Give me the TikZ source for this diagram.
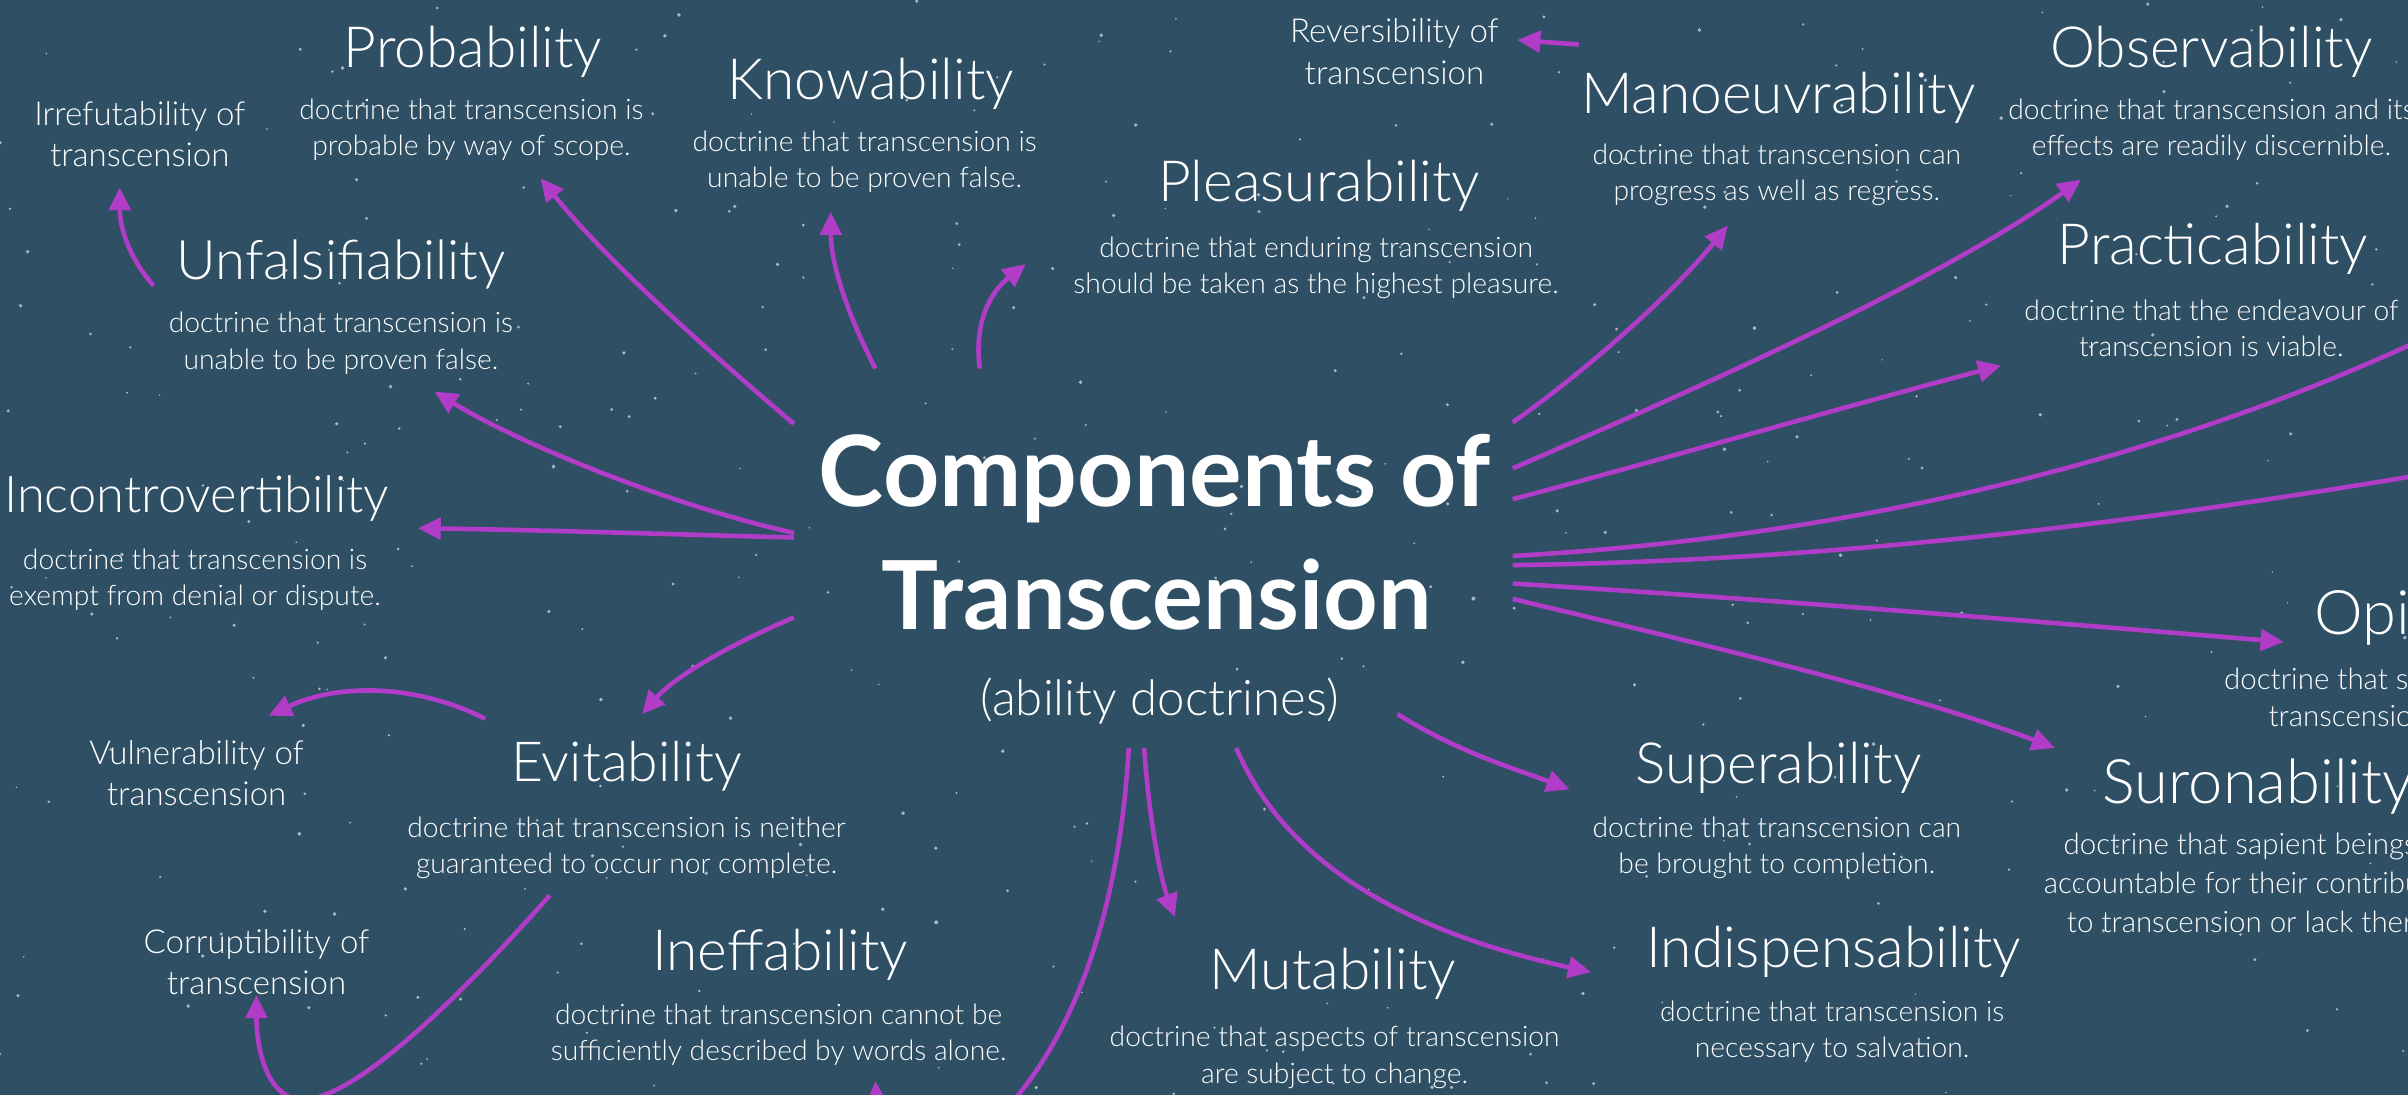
\documentclass[tikz,border=0pt]{standalone}
\usepackage{fontspec}
\setmainfont{Lato Light}
\newfontfamily\boldf{Lato Bold}
\usetikzlibrary{arrows.meta}
\definecolor{bg}{RGB}{46,79,100}
\definecolor{arr}{RGB}{176,60,200}
\begin{document}
\begin{tikzpicture}[x=1pt,y=-1pt,
  ttl/.style={text=white,font=\fontsize{37}{42}\selectfont,anchor=base,inner sep=0pt},
  desc/.style={text=white,font=\fontsize{18.4}{23.5}\selectfont,align=center,inner sep=0pt},
  smalltxt/.style={text=white,font=\fontsize{21.5}{27}\selectfont,align=center,inner sep=0pt},
  con/.style={draw=arr,line width=3pt,-{Triangle[length=15pt,width=14pt]}},
]
\useasboundingbox (0,0) rectangle (1568,713);
\fill[bg] (0,0) rectangle (1568,713);
% stars
\pgfmathsetseed{7}
\foreach \i in {1,...,360}{
  \pgfmathsetmacro\sx{rnd*1568}
  \pgfmathsetmacro\sy{rnd*713}
  \pgfmathsetmacro\sr{0.5+rnd*0.8}
  \fill[white,opacity=0.6] (\sx,\sy) circle (\sr);
}
% central title
\node[text=white,font=\boldf\fontsize{64}{70}\selectfont,anchor=base,inner sep=0pt] (title1) at (752,330) {Components of};
\node[text=white,font=\boldf\fontsize{62}{70}\selectfont,anchor=base,inner sep=0pt] (title2) at (753,410) {Transcension};
\node[text=white,font=\fontsize{32}{38}\selectfont,anchor=base,inner sep=0pt] (subt) at (755,466) {(ability doctrines)};

% doctrine titles
\node[ttl] (probT) at (308,44) {Probability};
\node[ttl] (knowT) at (567,65) {Knowability};
\node[ttl] (pleaT) at (859,131) {Pleasurability};
\node[ttl] (manoT) at (1158,74) {Manoeuvrability};
\node[ttl] (obsT) at (1440,44) {Observability};
\node[ttl] (pracT) at (1441,172) {Practicability};
\node[ttl,font=\fontsize{35.5}{42}\selectfont] (unfT) at (222,182) {Unfalsifiability};
\node[ttl,font=\fontsize{33}{42}\selectfont] (incT) at (128,334) {Incontrovertibility};
\node[ttl,font=\fontsize{36}{42}\selectfont] (eviT) at (408,509) {Evitability};
\node[ttl] (ineT) at (508,632) {Ineffability};
\node[ttl] (mutT) at (868,644) {Mutability};
\node[ttl] (supT) at (1158,510) {Superability};
\node[ttl] (indT) at (1194,630) {Indispensability};
\node[ttl,font=\fontsize{40}{46}\selectfont,anchor=base west] (opiT) at (1507,413) {Opi};
\node[ttl,font=\fontsize{40}{46}\selectfont,anchor=base west] (surT) at (1369,523) {Suronability};

% descriptions
\node[desc] (probD) at (307,84.5) {doctrine that transcension is\\probable by way of scope.};
\node[desc] (knowD) at (563,105) {doctrine that transcension is\\unable to be proven false.};
\node[desc] (pleaD) at (857,174.5) {doctrine that enduring transcension\\should be taken as the highest pleasure.};
\node[desc] (manoD) at (1157,114) {doctrine that transcension can\\progress as well as regress.};
\node[desc] (obsD) at (1440,84.5) {doctrine that transcension and its\\effects are readily discernible.};
\node[desc] (pracD) at (1440,214) {doctrine that the endeavour of\\transcension is viable.};
\node[desc] (unfD) at (222,223.5) {doctrine that transcension is\\unable to be proven false.};
\node[desc] (incD) at (127,377.5) {doctrine that transcension is\\exempt from denial or dispute.};
\node[desc] (eviD) at (408,552) {doctrine that transcension is neither\\guaranteed to occur nor complete.};
\node[desc] (ineD) at (507,674) {doctrine that transcension cannot be\\sufficiently described by words alone.};
\node[desc] (mutD) at (869,688.5) {doctrine that aspects of transcension\\are subject to change.};
\node[desc] (supD) at (1157,552) {doctrine that transcension can\\be brought to completion.};
\node[desc] (indD) at (1193,672) {doctrine that transcension is\\necessary to salvation.};
\node[desc,font=\fontsize{19.2}{25.5}\selectfont] (surD) at (1474,575) {doctrine that sapient beings are\\accountable for their contributions\\to transcension or lack thereof.};
\node[desc,font=\fontsize{19.2}{25.5}\selectfont,anchor=base west] (opiD1) at (1448,449) {doctrine that so};
\node[desc,font=\fontsize{19.2}{25.5}\selectfont,anchor=base west] (opiD2) at (1477,473) {transcensio};

% secondary labels
\node[smalltxt] (irr) at (91,87.5) {Irrefutability of\\transcension};
\node[smalltxt] (rev) at (908,33.5) {Reversibility of\\transcension};
\node[smalltxt] (vul) at (128,503.5) {Vulnerability of\\transcension};
\node[smalltxt] (cor) at (167,626.5) {Corruptibility of\\transcension};

% connector end points
\coordinate (s1) at (100,186);  \coordinate (e1) at (78,122);
\coordinate (s2) at (517,276);  \coordinate (e2) at (352,116);
\coordinate (s3) at (570,240);  \coordinate (e3) at (541,138);
\coordinate (s4) at (638,240);  \coordinate (e4) at (668,172);
\coordinate (s5) at (1028,29);  \coordinate (e5) at (988,26);
\coordinate (s6) at (985,275);  \coordinate (e6) at (1125,147);
\coordinate (s7) at (985,305);  \coordinate (e7) at (1355,117);
\coordinate (s8) at (985,325);  \coordinate (e8) at (1303,238);
\coordinate (s9) at (985,362);  \coordinate (e9) at (1620,200);
\coordinate (s10) at (985,368); \coordinate (e10) at (1630,300);
\coordinate (s11) at (985,380); \coordinate (e11) at (1487,418);
\coordinate (s12) at (985,390); \coordinate (e12) at (1338,487);
\coordinate (s13) at (910,465); \coordinate (e13) at (1022,514);
\coordinate (s14) at (805,487); \coordinate (e14) at (1036,633);
\coordinate (s15) at (745,487); \coordinate (e15) at (765,597);
\coordinate (s16) at (735,487); \coordinate (e16) at (570,704);
\coordinate (s17) at (517,402); \coordinate (e17) at (418,465);
\coordinate (s18) at (517,350); \coordinate (e18) at (272,344);
\coordinate (s19) at (517,347); \coordinate (e19) at (283,255);
\coordinate (s20) at (316,468); \coordinate (e20) at (175,466);
\coordinate (s21) at (358,583); \coordinate (e21) at (167,648);

% connectors
\draw[con] (s1) .. controls (84,168) and (78,148) .. (e1);
\draw[con] (s2) .. controls (465,232) and (395,170) .. (e2);
\draw[con] (s3) .. controls (552,205) and (541,172) .. (e3);
\draw[con] (s4) .. controls (634,210) and (645,190) .. (e4);
\draw[con] (s5) -- (e5);
\draw[con] (s6) .. controls (1035,240) and (1090,190) .. (e6);
\draw[con] (s7) .. controls (1100,255) and (1260,185) .. (e7);
\draw[con] (s8) .. controls (1080,300) and (1200,265) .. (e8);
\draw[con] (s9) .. controls (1200,350) and (1420,300) .. (e9);
\draw[con] (s10) .. controls (1200,365) and (1400,340) .. (e10);
\draw[con] (s11) .. controls (1150,390) and (1330,405) .. (e11);
\draw[con] (s12) .. controls (1110,420) and (1240,450) .. (e12);
\draw[con] (s13) .. controls (950,490) and (985,500) .. (e13);
\draw[con] (s14) .. controls (840,570) and (930,610) .. (e14);
\draw[con] (s15) .. controls (748,530) and (755,570) .. (e15);
\draw[con] (s16) .. controls (728,610) and (690,700) .. (630,745) .. controls (590,765) and (572,735) .. (e16);
\draw[con] (s17) .. controls (475,420) and (440,440) .. (e17);
\draw[con] (s18) .. controls (440,348) and (350,345) .. (e18);
\draw[con] (s19) .. controls (440,330) and (340,290) .. (e19);
\draw[con] (s20) .. controls (270,445) and (220,445) .. (e20);
\draw[con] (s21) .. controls (290,660) and (220,725) .. (190,715) .. controls (172,708) and (167,680) .. (e21);
\end{tikzpicture}
\end{document}
